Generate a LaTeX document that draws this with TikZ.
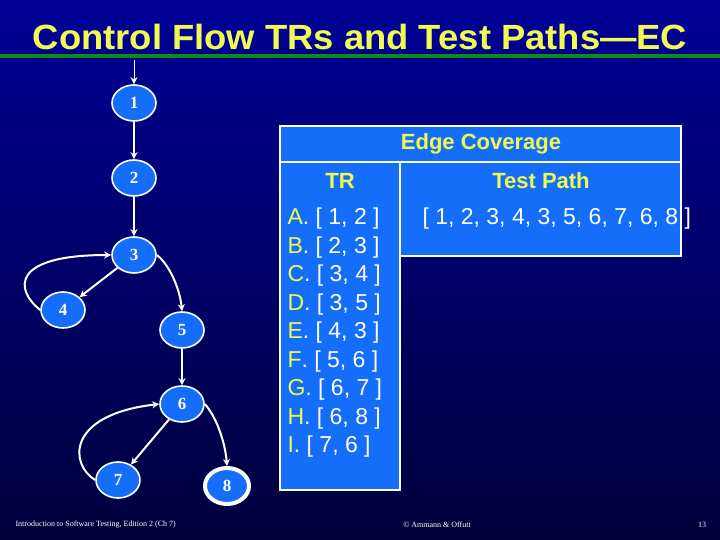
\documentclass[tikz,border=0pt]{standalone}
\usepackage{fontspec}
\setmainfont{Liberation Sans}
\newfontfamily\serifnum{Liberation Serif}
\usetikzlibrary{shapes.geometric,arrows.meta}
\definecolor{bgtop}{RGB}{0,0,150}
\definecolor{bgbot}{RGB}{0,0,60}
\definecolor{nblue}{RGB}{20,110,250}
\definecolor{tyel}{RGB}{240,250,80}
\definecolor{lgreen}{RGB}{20,140,20}
\tikzset{
 gn/.style={ellipse,draw=white,line width=1.6pt,fill=nblue,minimum width=44pt,minimum height=36pt,inner sep=0pt,text=white,font=\serifnum\bfseries\fontsize{17}{17}\selectfont},
 ed/.style={draw=white,line width=2pt,-{Stealth[length=7pt,width=7pt]}},
 tbox/.style={draw=white,line width=1.5pt,fill=nblue},
 hd/.style={text=tyel,font=\bfseries\fontsize{22}{22}\selectfont},
 tr/.style={anchor=west,text=white,font=\fontsize{23}{23}\selectfont},
}
\begin{document}
\begin{tikzpicture}[x=1pt,y=-1pt]
\shade[top color=bgtop,bottom color=bgbot] (0,0) rectangle (720,540);
\useasboundingbox (0,0) rectangle (720,540);
\node[text=tyel,font=\bfseries\fontsize{35}{35}\selectfont,xscale=1.04] (title) at (360,37) {Control Flow TRs and Test Paths—EC};
\fill[lgreen] (0,54) rectangle (720,58);
% table
\draw[tbox] (280,126) rectangle (681,162);
\draw[tbox] (280,162) rectangle (400,490);
\draw[tbox] (400,162) rectangle (681,256);
\node[hd] (ec) at (481,144) {Edge Coverage};
\node[hd] (trh) at (340,181) {TR};
\node[hd] (tph) at (541,181) {Test Path};
\node[tr] (path) at (419,219) {[ 1, 2, 3, 4, 3, 5, 6, 7, 6, 8 ]};
\foreach \l/\t [count=\i from 0] in {A/{[ 1, 2 ]},B/{[ 2, 3 ]},C/{[ 3, 4 ]},D/{[ 3, 5 ]},E/{[ 4, 3 ]},F/{[ 5, 6 ]},G/{[ 6, 7 ]},H/{[ 6, 8 ]},I/{[ 7, 6 ]}}
  \node[tr] (tr\i) at (284,219+28.5*\i) {\textcolor{tyel}{\l}. \t};
% graph
\node[gn] (n1) at (134,103) {1};
\node[gn] (n2) at (134,178) {2};
\node[gn] (n3) at (134,255) {3};
\node[gn] (n4) at (63,310) {4};
\node[gn] (n5) at (182,330) {5};
\node[gn] (n6) at (182,404) {6};
\node[gn] (n7) at (118,480) {7};
\node[gn,line width=4pt] (n8) at (227,486) {8};
\coordinate (start) at (134,60);
\draw[ed,line width=1pt] (start) -- (n1);
\draw[ed] (n1) -- (n2);
\draw[ed] (n2) -- (n3);
\draw[ed] (n3) -- (n4);
\draw[ed] (n4.west) .. controls (15,290) and (10,255) .. (n3.west);
\draw[ed] (n3.east) .. controls (170,265) and (180,290) .. (n5.north);
\draw[ed] (n5) -- (n6);
\draw[ed] (n6) -- (n7);
\draw[ed] (n7.west) .. controls (70,465) and (65,415) .. (n6.west);
\draw[ed] (n6.east) .. controls (215,415) and (225,440) .. (n8.north);
% footer
\node[text=white,font=\serifnum\fontsize{8}{8}\selectfont,anchor=west] (f1) at (12,525) {Introduction to Software Testing, Edition 2 (Ch 7)};
\node[text=white,font=\serifnum\fontsize{8}{8}\selectfont] (f2) at (437,525) {© Ammann \& Offutt};
\node[text=white,font=\serifnum\fontsize{8}{8}\selectfont] (f3) at (702,525) {13};
\end{tikzpicture}
\end{document}
